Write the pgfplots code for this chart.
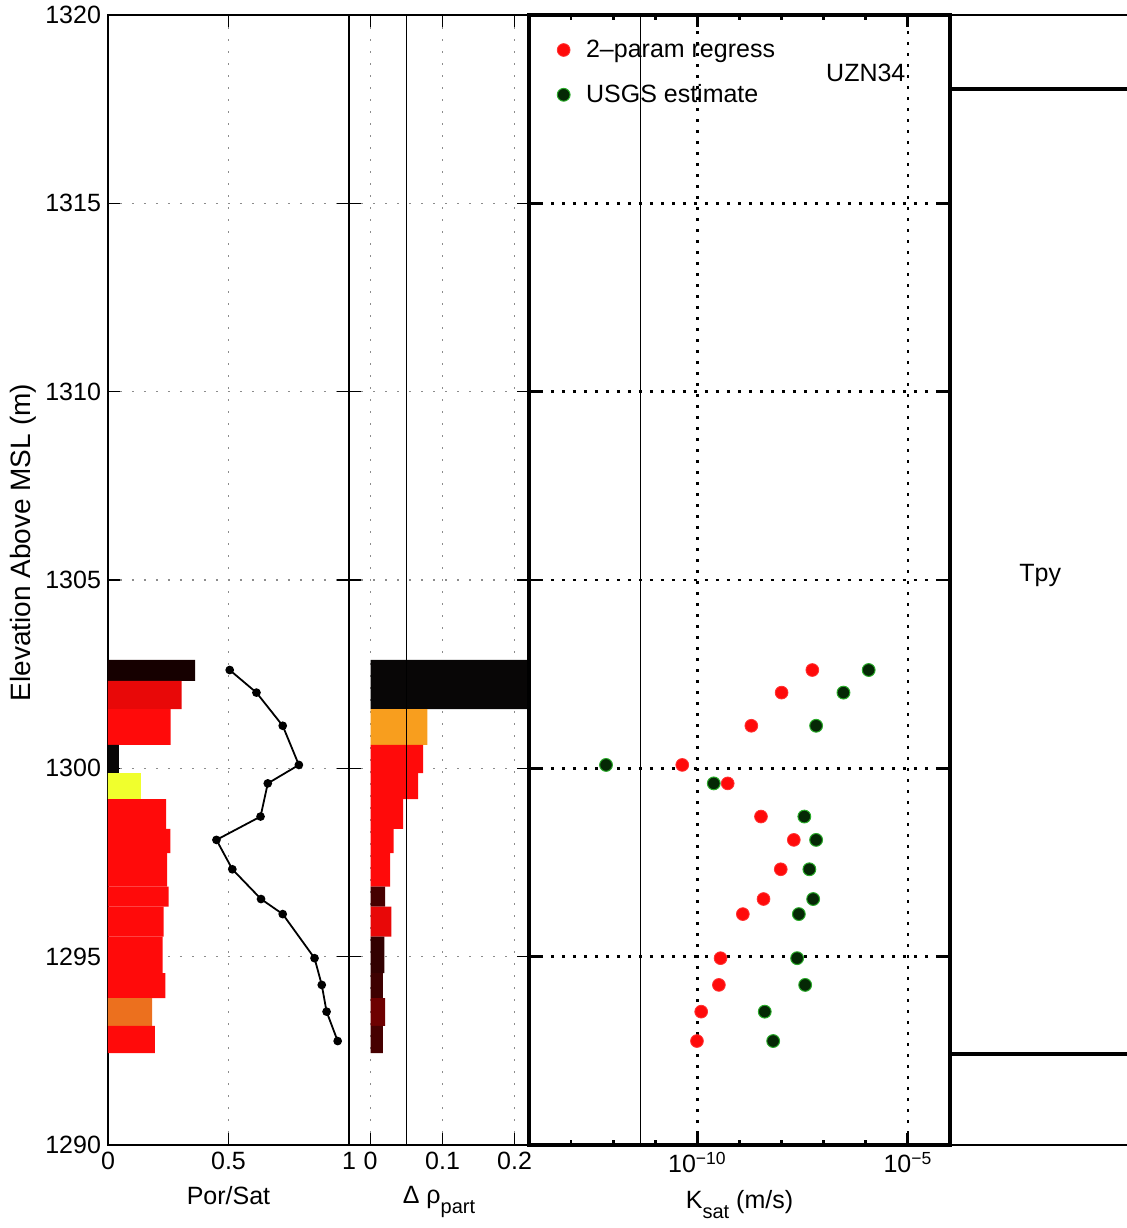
\documentclass[border=0pt]{standalone}
\usepackage{fontspec}
\setmainfont{Liberation Sans}
\usepackage{pgfplots}
\pgfplotsset{compat=1.18}

\newcommand\fs{\fontsize{12.5}{15}\selectfont}
\newcommand\fsub{\fontsize{10}{12}\selectfont}

% "hot" colormap shades used for the log bars
\definecolor{hotred}{RGB}{255,10,10}
\definecolor{hotredd}{RGB}{232,8,8}
\definecolor{hotblack}{RGB}{22,0,0}
\definecolor{hotnight}{RGB}{8,6,6}
\definecolor{hotyellow}{RGB}{240,255,45}
\definecolor{hotorange}{RGB}{236,112,30}
\definecolor{amber}{RGB}{248,158,30}
\definecolor{maroonA}{RGB}{70,0,0}
\definecolor{maroonB}{RGB}{50,0,0}
\definecolor{maroonC}{RGB}{62,0,0}
\definecolor{maroonD}{RGB}{110,0,0}
\definecolor{gridgray}{RGB}{140,140,140}
\definecolor{usgsfill}{RGB}{5,40,5}
\definecolor{usgsedge}{RGB}{40,170,40}

\pgfplotsset{
  wellpanel/.style={
    scale only axis, height=565pt,
    anchor=south west,
    ymin=1290, ymax=1320,
    ytick={1290,1295,1300,1305,1310,1315,1320},
    yticklabels={},
    tick align=inside,
    major tick length=6pt,
    minor tick length=2.5pt,
    tick label style={font=\fs},
    label style={font=\fs},
    xlabel style={yshift=-1.5pt},
    /pgf/number format/assume math mode=true,
  },
  thinframe/.style={
    axis line style={line width=0.8pt},
    tick style={black, line width=0.8pt},
    grid=major,
    major grid style={gridgray, line width=0.8pt, dash pattern=on 0.8pt off 5.2pt},
  },
}

\begin{document}
\begin{tikzpicture}
\useasboundingbox (0pt,0pt) rectangle (563.5pt,614pt);

% ---------------- porosity / saturation ----------------
\begin{axis}[wellpanel, thinframe, at={(54pt,41.5pt)}, width=120.5pt,
  xmin=0, xmax=1, xtick={0,0.5,1}, xticklabels={0,0.5,1},
  yticklabels={1290,1295,1300,1305,1310,1315,1320},
  xlabel={Por/Sat}, ylabel={Elevation Above MSL (m)},
  ylabel style={at={(ticklabel cs:0.533)}, font=\fontsize{14}{16}\selectfont, yshift=-2.5pt},
]
\addplot[fill=hotblack, draw=none] coordinates {(0,1302.88) (0.362,1302.88) (0.362,1302.32) (0,1302.32) (0,1302.88)};
\addplot[fill=hotredd, draw=none] coordinates {(0,1302.32) (0.305,1302.32) (0.305,1301.57) (0,1301.57) (0,1302.32)};
\addplot[fill=hotred, draw=none] coordinates {(0,1301.57) (0.260,1301.57) (0.260,1300.62) (0,1300.62) (0,1301.57)};
\addplot[fill=hotnight, draw=none] coordinates {(0,1300.62) (0.045,1300.62) (0.045,1299.87) (0,1299.87) (0,1300.62)};
\addplot[fill=hotyellow, draw=none] coordinates {(0,1299.87) (0.136,1299.87) (0.136,1299.18) (0,1299.18) (0,1299.87)};
\addplot[fill=hotred, draw=none] coordinates {(0,1299.18) (0.241,1299.18) (0.241,1298.39) (0,1298.39) (0,1299.18)};
\addplot[fill=hotred, draw=none] coordinates {(0,1298.39) (0.259,1298.39) (0.259,1297.75) (0,1297.75) (0,1298.39)};
\addplot[fill=hotred, draw=none] coordinates {(0,1297.75) (0.245,1297.75) (0.245,1296.86) (0,1296.86) (0,1297.75)};
\addplot[fill=hotred, draw=none] coordinates {(0,1296.86) (0.252,1296.86) (0.252,1296.33) (0,1296.33) (0,1296.86)};
\addplot[fill=hotred, draw=none] coordinates {(0,1296.33) (0.231,1296.33) (0.231,1295.53) (0,1295.53) (0,1296.33)};
\addplot[fill=hotred, draw=none] coordinates {(0,1295.53) (0.227,1295.53) (0.227,1294.56) (0,1294.56) (0,1295.53)};
\addplot[fill=hotred, draw=none] coordinates {(0,1294.56) (0.238,1294.56) (0.238,1293.90) (0,1293.90) (0,1294.56)};
\addplot[fill=hotorange, draw=none] coordinates {(0,1293.90) (0.183,1293.90) (0.183,1293.16) (0,1293.16) (0,1293.90)};
\addplot[fill=hotred, draw=none] coordinates {(0,1293.16) (0.194,1293.16) (0.194,1292.44) (0,1292.44) (0,1293.16)};
% saturation profile
\addplot[black, line width=0.9pt, mark=*, mark size=1.7pt, mark options={fill=black}] coordinates {
  (0.505,1302.61) (0.616,1302.01) (0.725,1301.13) (0.792,1300.09)
  (0.663,1299.60) (0.633,1298.72) (0.450,1298.10) (0.516,1297.32)
  (0.635,1296.53) (0.725,1296.13) (0.857,1294.96) (0.887,1294.25)
  (0.907,1293.54) (0.953,1292.76)};
\end{axis}

% ---------------- partial density change ----------------
\begin{axis}[wellpanel, thinframe, at={(174.5pt,41.5pt)}, width=90pt,
  xmin=-0.03, xmax=0.22, xtick={0,0.1,0.2}, xticklabels={0,0.1,0.2},
  xlabel={Δ ρ\raisebox{-5pt}{\fsub part}},
]
\addplot[fill=hotnight, draw=none] coordinates {(0,1302.88) (0.30,1302.88) (0.30,1301.57) (0,1301.57) (0,1302.88)};
\addplot[fill=amber, draw=none] coordinates {(0,1301.57) (0.079,1301.57) (0.079,1300.62) (0,1300.62) (0,1301.57)};
\addplot[fill=hotred, draw=none] coordinates {(0,1300.62) (0.073,1300.62) (0.073,1299.87) (0,1299.87) (0,1300.62)};
\addplot[fill=hotred, draw=none] coordinates {(0,1299.87) (0.066,1299.87) (0.066,1299.18) (0,1299.18) (0,1299.87)};
\addplot[fill=hotred, draw=none] coordinates {(0,1299.18) (0.045,1299.18) (0.045,1298.39) (0,1298.39) (0,1299.18)};
\addplot[fill=hotred, draw=none] coordinates {(0,1298.39) (0.032,1298.39) (0.032,1297.75) (0,1297.75) (0,1298.39)};
\addplot[fill=hotred, draw=none] coordinates {(0,1297.75) (0.027,1297.75) (0.027,1296.86) (0,1296.86) (0,1297.75)};
\addplot[fill=maroonA, draw=none] coordinates {(0,1296.86) (0.020,1296.86) (0.020,1296.33) (0,1296.33) (0,1296.86)};
\addplot[fill=hotredd, draw=none] coordinates {(0,1296.33) (0.029,1296.33) (0.029,1295.53) (0,1295.53) (0,1296.33)};
\addplot[fill=maroonB, draw=none] coordinates {(0,1295.53) (0.019,1295.53) (0.019,1294.56) (0,1294.56) (0,1295.53)};
\addplot[fill=maroonC, draw=none] coordinates {(0,1294.56) (0.017,1294.56) (0.017,1293.90) (0,1293.90) (0,1294.56)};
\addplot[fill=maroonD, draw=none] coordinates {(0,1293.90) (0.020,1293.90) (0.020,1293.16) (0,1293.16) (0,1293.90)};
\addplot[fill=maroonA, draw=none] coordinates {(0,1293.16) (0.017,1293.16) (0.017,1292.44) (0,1292.44) (0,1293.16)};
\addplot[black, line width=0.6pt] coordinates {(0.05,1290) (0.05,1320)};
\end{axis}

% ---------------- saturated conductivity ----------------
\begin{axis}[wellpanel, at={(264.5pt,41.5pt)}, width=210.5pt,
  xmode=log, xmin=1e-14, xmax=1e-4,
  xtick={1e-10,1e-5}, xticklabels={10\textsuperscript{−10},10\textsuperscript{−5}},
  minor xtick={1e-13,1e-12,1e-11,1e-9,1e-8,1e-7,1e-6},
  axis line style={line width=1.75pt},
  tick style={black, line width=1.4pt},
  xmajorgrids, ymajorgrids,
  major grid style={black, line width=1.3pt, dash pattern=on 1.3pt off 4.2pt},
  xlabel={K\raisebox{-5pt}{\fsub sat} (m/s)},
  legend style={draw=none, fill=none, at={(0.052,0.9855)}, anchor=north west,
    font=\fs, row sep=8pt, column sep=6pt},
  legend cell align=left,
]
\addplot[black, line width=0.6pt, forget plot] coordinates {(4.4e-12,1290) (4.4e-12,1320)};
\addplot[only marks, mark=*, mark size=3.2pt, mark options={fill=hotred, draw=red!80!white, line width=0.4pt}] coordinates {
  (5.37e-8,1302.61) (1.0e-8,1302.01) (1.91e-9,1301.13) (4.37e-11,1300.09)
  (5.25e-10,1299.60) (3.24e-9,1298.72) (1.95e-8,1298.10) (9.55e-9,1297.32)
  (3.72e-9,1296.53) (1.20e-9,1296.13) (3.55e-10,1294.96) (3.24e-10,1294.25)
  (1.23e-10,1293.54) (9.77e-11,1292.76)};
\addlegendentry{2–param regress}
\addplot[only marks, mark=*, mark size=3.2pt, mark options={fill=usgsfill, draw=usgsedge, line width=0.5pt}] coordinates {
  (1.17e-6,1302.61) (2.95e-7,1302.01) (6.61e-8,1301.13) (6.76e-13,1300.09)
  (2.45e-10,1299.60) (3.47e-8,1298.72) (6.61e-8,1298.10) (4.57e-8,1297.32)
  (5.62e-8,1296.53) (2.57e-8,1296.13) (2.34e-8,1294.96) (3.63e-8,1294.25)
  (3.98e-9,1293.54) (6.31e-9,1292.76)};
\addlegendentry{USGS estimate}
\node[font=\fs] at (axis cs:1e-6,1318.46) {UZN34};
\end{axis}

% ---------------- lithostratigraphy ----------------
\begin{axis}[wellpanel, at={(475pt,41.5pt)}, width=88.5pt,
  xmin=0, xmax=1, hide axis, clip=false,
]
\addplot[black, line width=1pt] coordinates {(0,1320) (1,1320)};
\addplot[black, line width=1pt] coordinates {(0,1290) (1,1290)};
\addplot[black, line width=2pt] coordinates {(0,1318.04) (1,1318.04)};
\addplot[black, line width=2pt] coordinates {(0,1292.42) (1,1292.42)};
\node[font=\fs] at (axis cs:0.51,1305.13) {Tpy};
\end{axis}
\end{tikzpicture}
\end{document}
